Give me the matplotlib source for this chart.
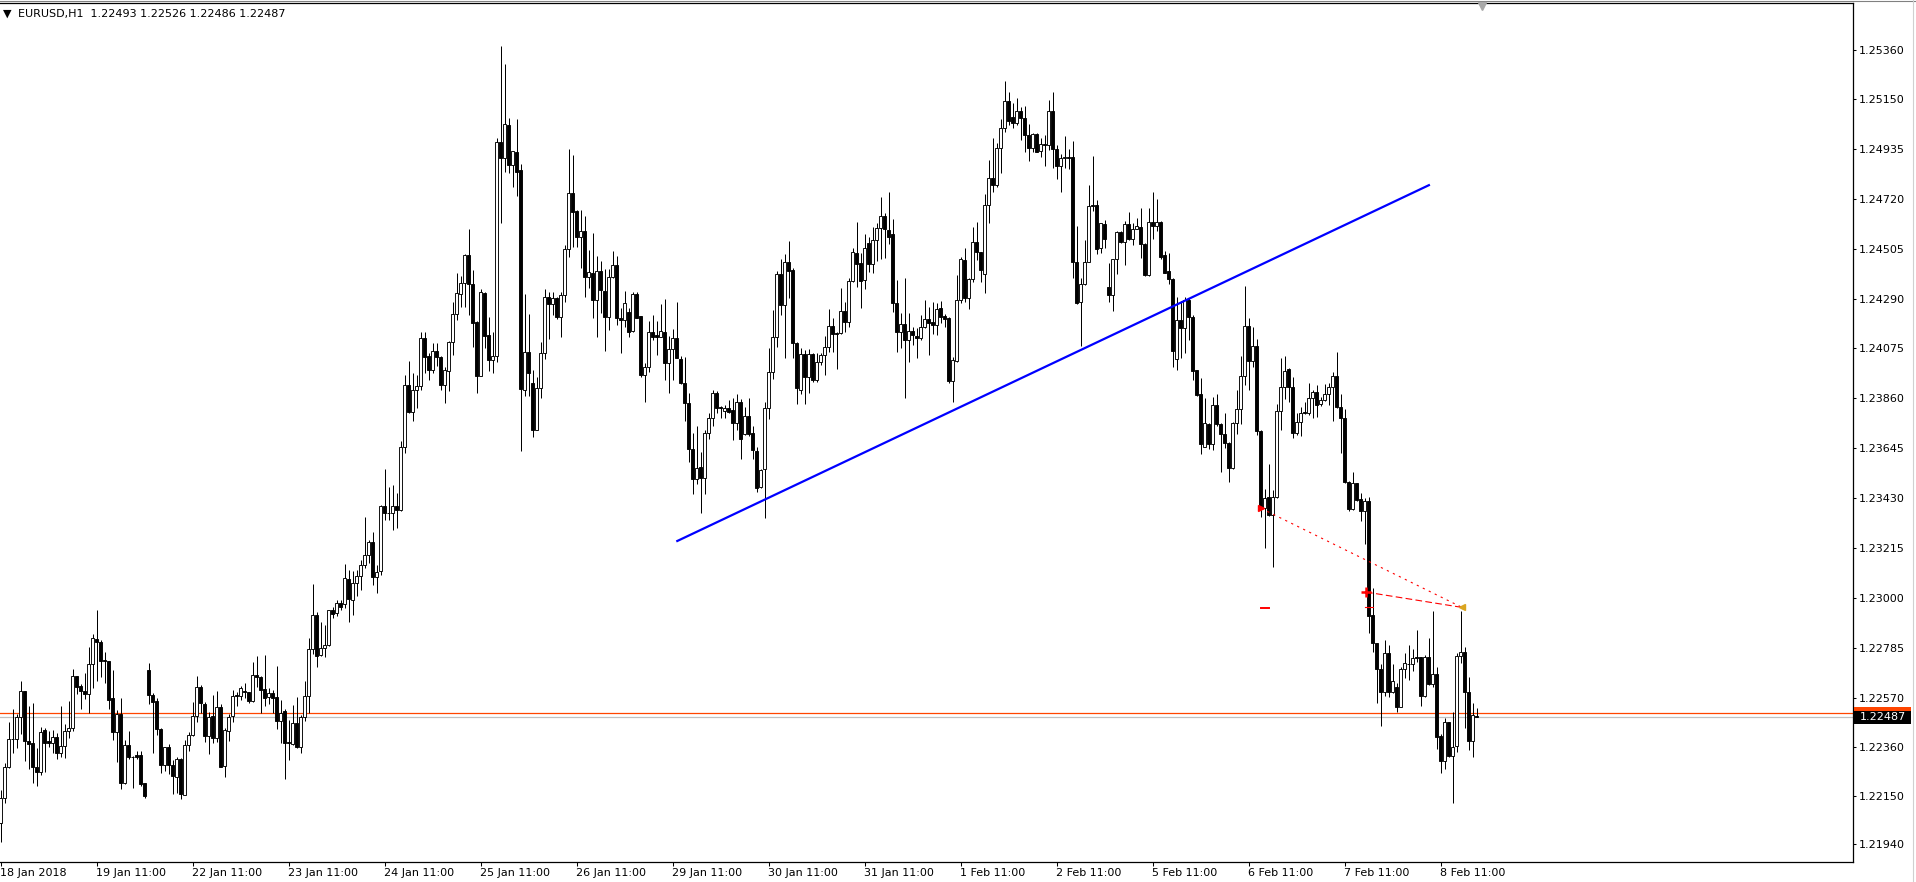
import numpy as np
import matplotlib.pyplot as plt
from matplotlib.patches import Rectangle

## EURUSD H1 bars, 18 Jan 2018 11:00 .. 8 Feb 2018 20:00 (one entry per hour, weekends skipped)

opens = [
    1.22030, 1.22138, 1.22274, 1.22392, 1.22392, 1.22487, 1.22599, 1.22386, 1.22375, 1.22274,
    1.22253, 1.22431, 1.22386, 1.22375, 1.22401, 1.22335, 1.22362, 1.22426, 1.22439, 1.22663,
    1.22622, 1.22600, 1.22586, 1.22715, 1.22822, 1.22809, 1.22733, 1.22729, 1.22568, 1.22425,
    1.22501, 1.22205, 1.22366, 1.22317, 1.22323, 1.22323, 1.22203, 1.22690, 1.22584, 1.22556,
    1.22435, 1.22280, 1.22357, 1.22280, 1.22228, 1.22306, 1.22154, 1.22366, 1.22409, 1.22491,
    1.22616, 1.22543, 1.22408, 1.22491, 1.22396, 1.22530, 1.22277, 1.22429, 1.22491, 1.22583,
    1.22577, 1.22601, 1.22594, 1.22556, 1.22667, 1.22659, 1.22607, 1.22573, 1.22590, 1.22573,
    1.22472, 1.22513, 1.22381, 1.22373, 1.22461, 1.22357, 1.22490, 1.22580, 1.22779, 1.22926,
    1.22756, 1.22784, 1.22798, 1.22947, 1.22934, 1.22977, 1.22975, 1.23081, 1.22992, 1.23064,
    1.23095, 1.23141, 1.23185, 1.23240, 1.23089, 1.23118, 1.23397, 1.23365, 1.23365, 1.23397,
    1.23380, 1.23652, 1.23916, 1.23803, 1.23896, 1.23913, 1.24119, 1.24043, 1.23982, 1.24066,
    1.24037, 1.23919, 1.23979, 1.24101, 1.24222, 1.24309, 1.24355, 1.24477, 1.24351, 1.24189,
    1.23958, 1.24312, 1.24133, 1.24025, 1.24043, 1.24962, 1.24896, 1.25037, 1.24866, 1.24919,
    1.24842, 1.23896, 1.24061, 1.23925, 1.23724, 1.23906, 1.24054, 1.24295, 1.24267, 1.24291,
    1.24209, 1.24304, 1.24502, 1.24743, 1.24668, 1.24554, 1.24582, 1.24381, 1.24399, 1.24284,
    1.24410, 1.24321, 1.24212, 1.24384, 1.24436, 1.24205, 1.24198, 1.24234, 1.24152, 1.24308,
    1.24215, 1.23961, 1.23994, 1.24147, 1.24132, 1.24126, 1.24147, 1.24014, 1.24071, 1.24119,
    1.24030, 1.23925, 1.23839, 1.23641, 1.23512, 1.23563, 1.23516, 1.23710, 1.23774, 1.23882,
    1.23825, 1.23807, 1.23820, 1.23810, 1.23756, 1.23846, 1.23707, 1.23784, 1.23710, 1.23634,
    1.23477, 1.23555, 1.23817, 1.23972, 1.24123, 1.24394, 1.24262, 1.24446, 1.24413, 1.24100,
    1.23896, 1.24051, 1.23951, 1.24051, 1.23937, 1.24015, 1.24047, 1.24083, 1.24173, 1.24143,
    1.24140, 1.24236, 1.24191, 1.24367, 1.24485, 1.24442, 1.24370, 1.24530, 1.24439, 1.24542,
    1.24592, 1.24645, 1.24585, 1.24568, 1.24269, 1.24147, 1.24179, 1.24112, 1.24150, 1.24129,
    1.24119, 1.24169, 1.24201, 1.24188, 1.24176, 1.24248, 1.24215, 1.24205, 1.23935, 1.24023,
    1.24284, 1.24456, 1.24291, 1.24373, 1.24535, 1.24489, 1.24394, 1.24691, 1.24808, 1.24779,
    1.24937, 1.25023, 1.25142, 1.25073, 1.25044, 1.25099, 1.25066, 1.24994, 1.24937, 1.24998,
    1.24927, 1.24954, 1.24950, 1.25097, 1.24934, 1.24861, 1.24894, 1.24901, 1.24898, 1.24449,
    1.24277, 1.24353, 1.24446, 1.24693, 1.24693, 1.24506, 1.24611, 1.24338, 1.24305, 1.24459,
    1.24575, 1.24535, 1.24610, 1.24545, 1.24588, 1.24599, 1.24525, 1.24391, 1.24621, 1.24602,
    1.24618, 1.24478, 1.24409, 1.24373, 1.24028, 1.24198, 1.24162, 1.24284, 1.24209, 1.23982,
    1.23879, 1.23652, 1.23749, 1.23662, 1.23832, 1.23749, 1.23707, 1.23667, 1.23559, 1.23753,
    1.23813, 1.23957, 1.24172, 1.24023, 1.24086, 1.23721, 1.23387, 1.23434, 1.23358, 1.23437,
    1.23806, 1.23908, 1.23985, 1.23911, 1.23713, 1.23760, 1.23803, 1.23796, 1.23860, 1.23886,
    1.23835, 1.23853, 1.23878, 1.23908, 1.23957, 1.23822, 1.23774, 1.23502, 1.23383, 1.23497,
    1.23426, 1.23373, 1.23420, 1.22927, 1.22805, 1.22693, 1.22597, 1.22762, 1.22597, 1.22616,
    1.22530, 1.22693, 1.22716, 1.22716, 1.22745, 1.22745, 1.22580, 1.22745, 1.22630, 1.22673,
    1.22406, 1.22300, 1.22468, 1.22320, 1.22365, 1.22751, 1.22767, 1.22594, 1.22386, 1.22493,
]

highs = [
    1.22174, 1.22289, 1.22465, 1.22521, 1.22500, 1.22643, 1.22599, 1.22535, 1.22547, 1.22353,
    1.22444, 1.22439, 1.22426, 1.22432, 1.22418, 1.22535, 1.22457, 1.22557, 1.22695, 1.22663,
    1.22630, 1.22676, 1.22788, 1.22845, 1.22949, 1.22820, 1.22767, 1.22729, 1.22690, 1.22518,
    1.22568, 1.22388, 1.22426, 1.22319, 1.22342, 1.22340, 1.22203, 1.22719, 1.22593, 1.22568,
    1.22439, 1.22360, 1.22370, 1.22303, 1.22317, 1.22310, 1.22389, 1.22422, 1.22551, 1.22663,
    1.22626, 1.22554, 1.22511, 1.22583, 1.22599, 1.22543, 1.22439, 1.22501, 1.22604, 1.22597,
    1.22623, 1.22633, 1.22597, 1.22726, 1.22751, 1.22666, 1.22755, 1.22612, 1.22604, 1.22708,
    1.22561, 1.22523, 1.22475, 1.22538, 1.22576, 1.22497, 1.22643, 1.22827, 1.23061, 1.22942,
    1.22899, 1.22886, 1.22949, 1.22963, 1.22992, 1.22992, 1.23147, 1.23121, 1.23117, 1.23121,
    1.23164, 1.23351, 1.23250, 1.23286, 1.23142, 1.23400, 1.23555, 1.23480, 1.23487, 1.23451,
    1.23678, 1.23961, 1.24021, 1.23971, 1.23961, 1.24147, 1.24147, 1.24054, 1.24100, 1.24097,
    1.24043, 1.23994, 1.24107, 1.24276, 1.24398, 1.24387, 1.24482, 1.24589, 1.24413, 1.24193,
    1.24330, 1.24318, 1.24209, 1.24147, 1.24980, 1.25377, 1.25300, 1.25066, 1.24927, 1.25061,
    1.24868, 1.24309, 1.24222, 1.23982, 1.23954, 1.24102, 1.24330, 1.24317, 1.24317, 1.24298,
    1.24317, 1.24521, 1.24932, 1.24908, 1.24671, 1.24671, 1.24645, 1.24499, 1.24571, 1.24473,
    1.24452, 1.24416, 1.24416, 1.24496, 1.24475, 1.24248, 1.24324, 1.24248, 1.24317, 1.24320,
    1.24215, 1.24011, 1.24195, 1.24219, 1.24195, 1.24265, 1.24288, 1.24130, 1.24158, 1.24274,
    1.24043, 1.24037, 1.23885, 1.23710, 1.23741, 1.23631, 1.23724, 1.23799, 1.23896, 1.23892,
    1.23829, 1.23832, 1.23853, 1.23860, 1.23879, 1.23856, 1.23825, 1.23860, 1.23739, 1.23652,
    1.23555, 1.23846, 1.24076, 1.24241, 1.24410, 1.24459, 1.24482, 1.24538, 1.24420, 1.24104,
    1.24076, 1.24069, 1.24071, 1.24057, 1.24054, 1.24057, 1.24129, 1.24245, 1.24205, 1.24147,
    1.24334, 1.24277, 1.24377, 1.24506, 1.24621, 1.24485, 1.24566, 1.24556, 1.24597, 1.24614,
    1.24729, 1.24657, 1.24747, 1.24631, 1.24370, 1.24229, 1.24377, 1.24229, 1.24169, 1.24162,
    1.24219, 1.24284, 1.24255, 1.24277, 1.24269, 1.24281, 1.24222, 1.24209, 1.24037, 1.24391,
    1.24470, 1.24506, 1.24377, 1.24599, 1.24621, 1.24492, 1.24739, 1.24886, 1.24980, 1.24958,
    1.25062, 1.25227, 1.25181, 1.25130, 1.25152, 1.25116, 1.25119, 1.25041, 1.25004, 1.25004,
    1.24980, 1.24994, 1.25145, 1.25178, 1.24951, 1.24912, 1.24990, 1.24932, 1.24968, 1.24602,
    1.24377, 1.24542, 1.24779, 1.24904, 1.24714, 1.24614, 1.24628, 1.24442, 1.24459, 1.24581,
    1.24582, 1.24624, 1.24661, 1.24614, 1.24635, 1.24678, 1.24528, 1.24678, 1.24747, 1.24717,
    1.24625, 1.24496, 1.24485, 1.24377, 1.24295, 1.24280, 1.24295, 1.24291, 1.24219, 1.23982,
    1.23949, 1.23863, 1.23753, 1.23865, 1.23879, 1.23753, 1.23796, 1.23674, 1.23760, 1.23896,
    1.24043, 1.24344, 1.24208, 1.24169, 1.24114, 1.23724, 1.23469, 1.23578, 1.23466, 1.23835,
    1.24036, 1.24043, 1.23990, 1.23951, 1.23799, 1.23825, 1.23846, 1.23928, 1.23896, 1.23918,
    1.23868, 1.23922, 1.23925, 1.23975, 1.24059, 1.23879, 1.23813, 1.23506, 1.23542, 1.23497,
    1.23452, 1.23430, 1.23434, 1.23042, 1.22805, 1.22716, 1.22820, 1.22798, 1.22716, 1.22633,
    1.22705, 1.22762, 1.22798, 1.22779, 1.22863, 1.22748, 1.22755, 1.22830, 1.22946, 1.22702,
    1.22415, 1.22483, 1.22468, 1.22508, 1.22762, 1.22946, 1.22791, 1.22662, 1.22547, 1.22526,
]

lows = [
    1.21951, 1.22116, 1.22267, 1.22335, 1.22353, 1.22415, 1.22300, 1.22263, 1.22203, 1.22193,
    1.22238, 1.22253, 1.22357, 1.22335, 1.22309, 1.22315, 1.22313, 1.22396, 1.22428, 1.22587,
    1.22524, 1.22564, 1.22504, 1.22613, 1.22645, 1.22659, 1.22636, 1.22524, 1.22389, 1.22296,
    1.22177, 1.22200, 1.22306, 1.22184, 1.22309, 1.22193, 1.22141, 1.22544, 1.22332, 1.22409,
    1.22246, 1.22257, 1.22241, 1.22155, 1.22159, 1.22135, 1.22151, 1.22343, 1.22408, 1.22467,
    1.22507, 1.22382, 1.22327, 1.22378, 1.22382, 1.22274, 1.22231, 1.22386, 1.22468, 1.22537,
    1.22561, 1.22568, 1.22547, 1.22553, 1.22619, 1.22504, 1.22537, 1.22544, 1.22504, 1.22435,
    1.22378, 1.22223, 1.22303, 1.22366, 1.22356, 1.22332, 1.22471, 1.22504, 1.22759, 1.22702,
    1.22751, 1.22745, 1.22792, 1.22913, 1.22924, 1.22949, 1.22956, 1.22896, 1.22926, 1.23009,
    1.23035, 1.23130, 1.23150, 1.23056, 1.23023, 1.23100, 1.23337, 1.23337, 1.23294, 1.23301,
    1.23377, 1.23626, 1.23799, 1.23764, 1.23820, 1.23896, 1.23971, 1.23939, 1.23971, 1.23999,
    1.23896, 1.23842, 1.23892, 1.24047, 1.24198, 1.24255, 1.24252, 1.24219, 1.24083, 1.23885,
    1.23958, 1.24076, 1.23979, 1.23968, 1.24015, 1.24617, 1.24836, 1.24829, 1.24769, 1.24733,
    1.23635, 1.23872, 1.23872, 1.23695, 1.23724, 1.23860, 1.24028, 1.24114, 1.24219, 1.24201,
    1.24123, 1.24277, 1.24470, 1.24513, 1.24513, 1.24420, 1.24295, 1.24337, 1.24205, 1.24123,
    1.24226, 1.24066, 1.24155, 1.24377, 1.24176, 1.24054, 1.24169, 1.24123, 1.24147, 1.24205,
    1.23954, 1.23846, 1.23975, 1.24112, 1.24047, 1.24126, 1.23937, 1.23882, 1.23937, 1.24033,
    1.23922, 1.23764, 1.23588, 1.23447, 1.23492, 1.23365, 1.23447, 1.23684, 1.23741, 1.23799,
    1.23777, 1.23777, 1.23796, 1.23681, 1.23724, 1.23598, 1.23703, 1.23698, 1.23598, 1.23459,
    1.23473, 1.23344, 1.23770, 1.23942, 1.24080, 1.24219, 1.24033, 1.24291, 1.24033, 1.23836,
    1.23879, 1.23836, 1.23882, 1.23932, 1.23932, 1.24004, 1.23961, 1.24061, 1.24060, 1.23985,
    1.24136, 1.24145, 1.24169, 1.24363, 1.24341, 1.24248, 1.24330, 1.24403, 1.24399, 1.24452,
    1.24459, 1.24463, 1.24525, 1.24234, 1.24061, 1.24079, 1.23863, 1.24018, 1.24090, 1.24036,
    1.24112, 1.24162, 1.24047, 1.24137, 1.24133, 1.24183, 1.24169, 1.23925, 1.23846, 1.24018,
    1.24269, 1.24277, 1.24244, 1.24363, 1.24456, 1.24363, 1.24313, 1.24617, 1.24750, 1.24772,
    1.24832, 1.25008, 1.25037, 1.25023, 1.25037, 1.24973, 1.24922, 1.24884, 1.24922, 1.24919,
    1.24901, 1.24861, 1.24930, 1.24851, 1.24803, 1.24750, 1.24851, 1.24846, 1.24377, 1.24267,
    1.24086, 1.24348, 1.24446, 1.24668, 1.24482, 1.24485, 1.24506, 1.24277, 1.24238, 1.24394,
    1.24531, 1.24434, 1.24542, 1.24521, 1.24588, 1.24463, 1.24387, 1.24387, 1.24546, 1.24582,
    1.24459, 1.24399, 1.24353, 1.23994, 1.23982, 1.24033, 1.24054, 1.24112, 1.23937, 1.23871,
    1.23621, 1.23650, 1.23641, 1.23638, 1.23741, 1.23545, 1.23645, 1.23502, 1.23555, 1.23707,
    1.23750, 1.23918, 1.23896, 1.23994, 1.23703, 1.23351, 1.23215, 1.23354, 1.23133, 1.23430,
    1.23724, 1.23858, 1.23846, 1.23691, 1.23703, 1.23698, 1.23793, 1.23789, 1.23774, 1.23779,
    1.23827, 1.23850, 1.23832, 1.23764, 1.23817, 1.23624, 1.23497, 1.23373, 1.23380, 1.23419,
    1.23334, 1.23233, 1.22848, 1.22769, 1.22547, 1.22451, 1.22579, 1.22576, 1.22590, 1.22511,
    1.22530, 1.22655, 1.22648, 1.22686, 1.22726, 1.22537, 1.22573, 1.22626, 1.22619, 1.22349,
    1.22246, 1.22263, 1.22318, 1.22116, 1.22339, 1.22719, 1.22439, 1.22346, 1.22318, 1.22486,
]

closes = [
    1.22138, 1.22271, 1.22392, 1.22395, 1.22487, 1.22599, 1.22386, 1.22370, 1.22274, 1.22253,
    1.22425, 1.22378, 1.22378, 1.22403, 1.22335, 1.22362, 1.22426, 1.22439, 1.22663, 1.22616,
    1.22601, 1.22586, 1.22715, 1.22827, 1.22812, 1.22731, 1.22728, 1.22561, 1.22425, 1.22501,
    1.22203, 1.22366, 1.22317, 1.22316, 1.22314, 1.22200, 1.22148, 1.22584, 1.22554, 1.22435,
    1.22280, 1.22357, 1.22283, 1.22233, 1.22306, 1.22155, 1.22366, 1.22409, 1.22491, 1.22616,
    1.22547, 1.22408, 1.22487, 1.22396, 1.22530, 1.22274, 1.22432, 1.22487, 1.22577, 1.22577,
    1.22612, 1.22597, 1.22556, 1.22667, 1.22659, 1.22604, 1.22568, 1.22590, 1.22571, 1.22472,
    1.22507, 1.22378, 1.22375, 1.22461, 1.22357, 1.22487, 1.22579, 1.22779, 1.22926, 1.22752,
    1.22784, 1.22799, 1.22947, 1.22932, 1.22977, 1.22963, 1.23085, 1.22995, 1.23064, 1.23095,
    1.23141, 1.23185, 1.23240, 1.23089, 1.23111, 1.23397, 1.23365, 1.23367, 1.23397, 1.23380,
    1.23652, 1.23916, 1.23803, 1.23896, 1.23913, 1.24119, 1.24040, 1.23982, 1.24066, 1.24037,
    1.23919, 1.23982, 1.24101, 1.24222, 1.24312, 1.24355, 1.24477, 1.24351, 1.24186, 1.23958,
    1.24317, 1.24130, 1.24025, 1.24043, 1.24962, 1.24896, 1.25040, 1.24866, 1.24924, 1.24836,
    1.23899, 1.24058, 1.23968, 1.23724, 1.23906, 1.24054, 1.24295, 1.24267, 1.24291, 1.24209,
    1.24304, 1.24502, 1.24743, 1.24664, 1.24554, 1.24582, 1.24381, 1.24403, 1.24284, 1.24410,
    1.24327, 1.24212, 1.24384, 1.24436, 1.24205, 1.24198, 1.24269, 1.24147, 1.24308, 1.24205,
    1.23961, 1.23994, 1.24147, 1.24123, 1.24126, 1.24152, 1.24014, 1.24071, 1.24119, 1.24033,
    1.23925, 1.23839, 1.23641, 1.23512, 1.23559, 1.23516, 1.23710, 1.23774, 1.23882, 1.23820,
    1.23820, 1.23817, 1.23803, 1.23756, 1.23846, 1.23687, 1.23782, 1.23707, 1.23638, 1.23473,
    1.23552, 1.23817, 1.23972, 1.24123, 1.24394, 1.24262, 1.24446, 1.24410, 1.24097, 1.23904,
    1.24051, 1.23951, 1.24051, 1.23937, 1.24015, 1.24047, 1.24083, 1.24173, 1.24137, 1.24137,
    1.24236, 1.24191, 1.24367, 1.24489, 1.24439, 1.24367, 1.24506, 1.24439, 1.24542, 1.24592,
    1.24645, 1.24588, 1.24556, 1.24269, 1.24147, 1.24179, 1.24112, 1.24150, 1.24133, 1.24119,
    1.24169, 1.24201, 1.24186, 1.24176, 1.24244, 1.24212, 1.24203, 1.23935, 1.24025, 1.24284,
    1.24459, 1.24291, 1.24373, 1.24535, 1.24489, 1.24413, 1.24691, 1.24808, 1.24779, 1.24937,
    1.25023, 1.25142, 1.25054, 1.25044, 1.25099, 1.25066, 1.24994, 1.24937, 1.24998, 1.24922,
    1.24954, 1.24950, 1.25097, 1.24932, 1.24861, 1.24894, 1.24901, 1.24897, 1.24449, 1.24269,
    1.24353, 1.24446, 1.24688, 1.24688, 1.24502, 1.24614, 1.24546, 1.24305, 1.24459, 1.24575,
    1.24535, 1.24610, 1.24545, 1.24588, 1.24602, 1.24523, 1.24391, 1.24621, 1.24604, 1.24618,
    1.24470, 1.24401, 1.24373, 1.24066, 1.24198, 1.24162, 1.24284, 1.24209, 1.23979, 1.23875,
    1.23662, 1.23753, 1.23662, 1.23832, 1.23749, 1.23706, 1.23667, 1.23559, 1.23756, 1.23813,
    1.23957, 1.24172, 1.24023, 1.24086, 1.23721, 1.23387, 1.23430, 1.23358, 1.23437, 1.23806,
    1.23908, 1.23979, 1.23911, 1.23713, 1.23760, 1.23799, 1.23799, 1.23860, 1.23886, 1.23832,
    1.23853, 1.23878, 1.23908, 1.23957, 1.23822, 1.23774, 1.23502, 1.23383, 1.23495, 1.23423,
    1.23373, 1.23420, 1.22923, 1.22805, 1.22693, 1.22597, 1.22762, 1.22597, 1.22643, 1.22533,
    1.22693, 1.22719, 1.22718, 1.22741, 1.22741, 1.22580, 1.22745, 1.22630, 1.22673, 1.22404,
    1.22300, 1.22468, 1.22320, 1.22358, 1.22751, 1.22767, 1.22594, 1.22386, 1.22497, 1.22487,
]

# time axis: bar index of each label
day_bars = [0, 24, 48, 72, 96, 120, 144, 168, 192, 216, 240, 264, 288, 312, 336, 360]
day_labels = ["18 Jan 2018", "19 Jan 11:00", "22 Jan 11:00", "23 Jan 11:00", "24 Jan 11:00",
              "25 Jan 11:00", "26 Jan 11:00", "29 Jan 11:00", "30 Jan 11:00", "31 Jan 11:00",
              "1 Feb 11:00", "2 Feb 11:00", "5 Feb 11:00", "6 Feb 11:00", "7 Feb 11:00",
              "8 Feb 11:00"]

price_ticks = [1.25360, 1.25150, 1.24935, 1.24720, 1.24505, 1.24290, 1.24075, 1.23860,
               1.23645, 1.23430, 1.23215, 1.23000, 1.22785, 1.22570, 1.22360, 1.22150, 1.21940]

bid_price = 1.22487
hline_price = 1.22504

# drawn objects (bar index, price)
trend_bars = [169.2, 357.1]
trend_prices = [1.23246, 1.24778]
order1_bars = [315.2, 365.4]
order1_prices = [1.23386, 1.22960]
order2_bars = [341.4, 365.4]
order2_prices = [1.23026, 1.22960]
stop_bars = [315.2, 317.0]
stop_price = 1.22956

W, H = 1916, 882
n = len(closes)
assert len(opens) == n and len(highs) == n and len(lows) == n

fig = plt.figure(figsize=(W / 100, H / 100), dpi=100)
fig.patch.set_facecolor("white")
ax = fig.add_axes([0, 20 / H, 1853 / W, 859 / H])

x = np.arange(n)
o = np.array(opens)
c = np.array(closes)
up = c >= o
bottom = np.minimum(o, c)
height = np.abs(c - o)

# 1 px wicks, 3 px bodies (white = up bar, black = down bar)
ax.vlines(x, lows, highs, color="black", linewidth=0.72, zorder=2)
ax.bar(x[up], height[up], bottom=bottom[up], width=0.6, color="white",
       edgecolor="black", linewidth=0.65, zorder=3)
ax.bar(x[~up], height[~up], bottom=bottom[~up], width=0.6, color="black",
       edgecolor="black", linewidth=0.65, zorder=3)

# horizontal line + bid line
ax.axhline(hline_price, color="#FF4500", linewidth=0.9, zorder=1)
ax.axhline(bid_price, color="#C0C0C0", linewidth=0.9, zorder=1)

# trendline
ax.plot(trend_bars, trend_prices, color="#0000FF", linewidth=1.6, zorder=4)

# order lines
ax.plot(order1_bars, order1_prices, color="red", linewidth=0.8, dashes=(2, 4), zorder=5)
ax.plot(order2_bars, order2_prices, color="red", linewidth=0.8, dashes=(6, 3), zorder=5)
ax.plot(order1_bars[0], order1_prices[0], marker=">", color="red", markersize=5, zorder=6)
ax.plot(order2_bars[0], order2_prices[0], marker="+", color="red", markersize=7,
        markeredgewidth=1.8, zorder=6)
ax.plot(stop_bars, [stop_price, stop_price], color="red", linewidth=1.4, zorder=5)
ax.plot([order2_bars[0] - 0.2, order2_bars[0] + 1.6], [order2_prices[1], order2_prices[1]],
        color="red", linewidth=0.8, zorder=5)
ax.plot(order1_bars[1], order1_prices[1], marker="<", color="#DAA520", markersize=5, zorder=6)

ax.set_xlim(-0.125, 463.125)
ax.set_ylim(1.218638, 1.255624)

ax.yaxis.tick_right()
ax.set_yticks(price_ticks)
ax.set_yticklabels(["%.5f" % p for p in price_ticks])
ax.set_xticks(day_bars)
ax.set_xticklabels(day_labels)
for lab in ax.get_xticklabels():
    lab.set_horizontalalignment("left")

ax.tick_params(axis="y", direction="out", length=2, width=0.75, pad=2.5, labelsize=8, colors="black")
ax.tick_params(axis="x", direction="out", length=3, width=0.75, pad=1.5, labelsize=8, colors="black")

ax.spines["left"].set_visible(False)
for s in ["top", "right", "bottom"]:
    ax.spines[s].set_linewidth(0.9)
    ax.spines[s].set_color("black")

# price boxes on the scale
ytr = ax.get_yaxis_transform()
box_h = 12 / 23225
ax.add_patch(Rectangle((1.0005, hline_price - box_h / 2), 0.0308, box_h, transform=ytr,
                       facecolor="#FF4500", edgecolor="none", clip_on=False, zorder=7))
ax.add_patch(Rectangle((1.0005, bid_price - box_h / 2 - 0.00002), 0.0308, box_h * 1.05, transform=ytr,
                       facecolor="black", edgecolor="none", clip_on=False, zorder=8))
ax.text(1.0038, bid_price, "%.5f" % bid_price, transform=ytr, color="white", fontsize=8,
        va="center", ha="left", zorder=9, clip_on=False)

# header
fig.text(3 / W, 1 - 14 / H, "\u25BC", fontsize=8, va="center", ha="left")
fig.text(18 / W, 1 - 14 / H, "EURUSD,H1  %.5f %.5f %.5f %.5f" % (opens[-1], highs[-1], lows[-1], closes[-1]),
         fontsize=8, va="center", ha="left")

# window frame bits
fig.add_artist(plt.Line2D([0, 1], [1 - 0.5 / H, 1 - 0.5 / H], color="#808080", linewidth=0.8))
fig.add_artist(plt.Line2D([1913 / W, 1913 / W], [0, 1], color="#D0D0D0", linewidth=0.8))
fig.add_artist(plt.Line2D([1482 / W], [1 - 6 / H], marker="v", color="#A8A8A8", markersize=6))

fig.savefig("out.png", dpi=100, facecolor="white")
